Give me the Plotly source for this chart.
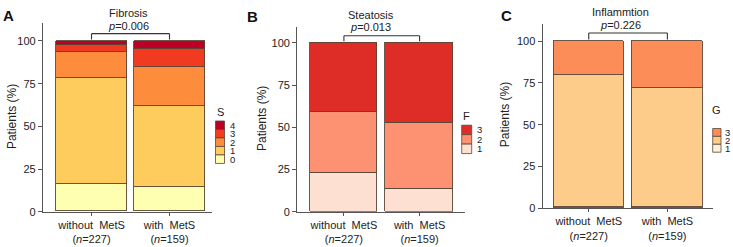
import plotly.graph_objects as go

W, H = 733, 247

groups = ["without  MetS<br>(<i>n</i>=227)", "with  MetS<br>(<i>n</i>=159)"]

fib_levels = ["0", "1", "2", "3", "4"]
fib_without = [16.0, 62.0, 15.5, 3.8, 2.7]
fib_with = [14.5, 47.0, 23.0, 10.4, 5.1]
fib_colors = ["#ffffb2", "#fecc5c", "#fd8d3c", "#f03b20", "#bd0026"]

ste_levels = ["1", "2", "3"]
ste_without = [23.0, 36.3, 40.7]
ste_with = [13.9, 38.9, 47.2]
ste_colors = ["#fee0d2", "#fc9272", "#de2d26"]

inf_levels = ["1", "2", "3"]
inf_without = [0.4, 79.1, 20.5]
inf_with = [0.6, 71.4, 28.0]
inf_colors = ["#fef0d9", "#fdcc8a", "#fc8d59"]

titles = ["Fibrosis", "Steatosis", "Inflammtion"]
pvals = ["0.006", "0.013", "0.226"]
legend_titles = ["S", "F", "G"]
panel_letters = ["A", "B", "C"]

FONT = "Liberation Sans, Arial, sans-serif"
EDGE = "#5b4636"


def px(x):
    return x / W


def py(y):
    return (H - y) / H


panels = [
    dict(levels=fib_levels, a=fib_without, b=fib_with, colors=fib_colors,
         xdom=[43, 212], xr=[-0.622, 1.545], ydom=[217, 24], yr=[0, 110.3], bw=0.91,
         br=[104.3, 100.9], title_y=13, p_y=27, title_x=128, letter=(8, 16),
         ytitle=(12, 120),
         leg=dict(tx=215.5, ty=115, x0=215.5, x1=224.5, y0=124, dy=8.7, lx=229)),
    dict(levels=ste_levels, a=ste_without, b=ste_with, colors=ste_colors,
         xdom=[297.3, 465], xr=[-0.616, 1.60], ydom=[217, 27.3], yr=[0, 109.6], bw=0.894,
         br=[104.2, 101.0], title_y=15, p_y=28, title_x=370.7, letter=(252, 17),
         ytitle=(262, 122),
         leg=dict(tx=461.7, ty=119, x0=461.7, x1=471.7, y0=128.3, dy=9.7, lx=476)),
    dict(levels=inf_levels, a=inf_without, b=inf_with, colors=inf_colors,
         xdom=[542.7, 713], xr=[-0.585, 1.58], ydom=[213.3, 25], yr=[0, 110.1], bw=0.897,
         br=[104.9, 101.0], title_y=12, p_y=26, title_x=620, letter=(506, 16),
         ytitle=(505, 118),
         leg=dict(tx=711, ty=113, x0=712.7, x1=721, y0=131.7, dy=8.1, lx=724)),
]

fig = go.Figure()
shapes = []
annotations = []
layout = {}


def note(text, x, y, size=11, xanchor="center", yanchor="middle", angle=0, color="#222"):
    annotations.append(dict(text=text, xref="paper", yref="paper", x=px(x), y=py(y),
                            xanchor=xanchor, yanchor=yanchor, textangle=angle,
                            showarrow=False, borderpad=0,
                            font=dict(family=FONT, size=size, color=color)))


for i, p in enumerate(panels):
    sfx = "" if i == 0 else str(i + 1)
    xa, ya = "x" + sfx, "y" + sfx
    for lev, va, vb, col in zip(p["levels"], p["a"], p["b"], p["colors"]):
        fig.add_trace(go.Bar(
            x=[0, 1], y=[va, vb], width=p["bw"], name=lev,
            marker=dict(color=col, line=dict(color=EDGE, width=0.9)),
            xaxis=xa, yaxis=ya, showlegend=False, hoverinfo="skip",
        ))
    layout["xaxis" + sfx] = dict(
        domain=[px(p["xdom"][0]), px(p["xdom"][1])], range=p["xr"],
        anchor=ya, tickvals=[0, 1], ticktext=groups, showgrid=False, zeroline=False,
        showline=True, linecolor="#555", linewidth=1.3, ticks="outside", ticklen=3,
        tickcolor="#555", tickfont=dict(family=FONT, size=11, color="#222"),
        fixedrange=True,
    )
    layout["yaxis" + sfx] = dict(
        domain=[py(p["ydom"][0]), py(p["ydom"][1])], range=p["yr"],
        anchor=xa, tickvals=[0, 25, 50, 75, 100], showgrid=False, zeroline=False,
        showline=True, linecolor="#555", linewidth=1.3, ticks="outside", ticklen=4,
        tickcolor="#555", tickfont=dict(family=FONT, size=11, color="#222"),
        fixedrange=True,
    )
    # significance bracket between bar centres
    top, bot = p["br"]
    for (x0, y0, x1, y1) in [(0, top, 1, top), (0, top, 0, bot), (1, top, 1, bot)]:
        shapes.append(dict(type="line", xref=xa, yref=ya, x0=x0, y0=y0, x1=x1, y1=y1,
                           line=dict(color="#333", width=1.1)))
    note(titles[i], p["title_x"], p["title_y"])
    note("<i>p</i>=" + pvals[i], p["title_x"], p["p_y"])
    note("<b>" + panel_letters[i] + "</b>", p["letter"][0], p["letter"][1], size=15, color="#111")
    note("Patients (%)", p["ytitle"][0], p["ytitle"][1], size=12, angle=-90)
    # legend (drawn manually, highest level on top)
    lg = p["leg"]
    note(legend_titles[i], lg["tx"], lg["ty"], xanchor="left")
    for k, (lev, col) in enumerate(reversed(list(zip(p["levels"], p["colors"])))):
        y0 = lg["y0"] + k * lg["dy"]
        y1 = y0 + lg["dy"]
        shapes.append(dict(type="rect", xref="paper", yref="paper",
                           x0=px(lg["x0"]), x1=px(lg["x1"]), y0=py(y0), y1=py(y1),
                           fillcolor=col, line=dict(color=EDGE, width=0.8)))
        note(lev, lg["lx"], (y0 + y1) / 2, size=9.5, xanchor="left")

fig.update_layout(
    **layout,
    barmode="stack", bargap=0,
    width=W, height=H, autosize=False,
    margin=dict(l=0, r=0, t=0, b=0),
    paper_bgcolor="white", plot_bgcolor="white",
    shapes=shapes, annotations=annotations,
    font=dict(family=FONT),
)

fig.write_html("out.html", config={"displayModeBar": False},
               post_script="document.body.style.margin='0';document.body.style.overflow='hidden';")
